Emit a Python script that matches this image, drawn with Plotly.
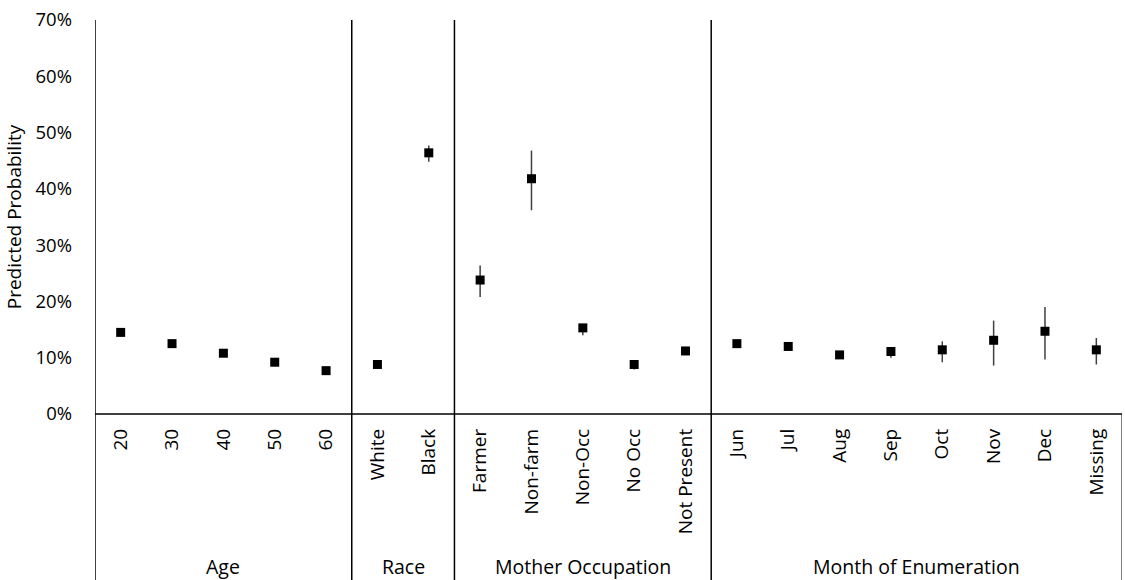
import plotly.graph_objects as go

# Categories grouped by covariate
groups = ["Age", "Race", "Mother Occupation", "Month of Enumeration"]
group_labels = [
    ["20", "30", "40", "50", "60"],
    ["White", "Black"],
    ["Farmer", "Non-farm", "Non-Occ", "No Occ", "Not Present"],
    ["Jun", "Jul", "Aug", "Sep", "Oct", "Nov", "Dec", "Missing"],
]

# Predicted probabilities with lower/upper confidence bounds
prob = [0.145, 0.125, 0.108, 0.092, 0.077,
        0.088, 0.464,
        0.238, 0.418, 0.153, 0.088, 0.112,
        0.125, 0.120, 0.105, 0.111, 0.114, 0.131, 0.147, 0.114]
lower = [0.141, 0.121, 0.104, 0.088, 0.073,
         0.085, 0.448,
         0.208, 0.362, 0.140, 0.079, 0.107,
         0.120, 0.115, 0.100, 0.100, 0.092, 0.086, 0.097, 0.088]
upper = [0.149, 0.129, 0.112, 0.096, 0.081,
         0.091, 0.477,
         0.264, 0.468, 0.158, 0.092, 0.117,
         0.130, 0.125, 0.110, 0.117, 0.129, 0.166, 0.190, 0.135]

tick_text = [lab for g in group_labels for lab in g]
xs = list(range(len(tick_text)))

FONT = "Open Sans"
W, H = 1125, 580
ML, MR, MT, MB = 95, 3, 20, 166
plot_h = H - MT - MB
bottom = -MB / plot_h

fig = go.Figure()
fig.add_trace(go.Scatter(
    x=xs, y=prob, mode="markers",
    marker=dict(symbol="square", size=9, color="black"),
    error_y=dict(type="data", symmetric=False,
                 array=[u - p for u, p in zip(upper, prob)],
                 arrayminus=[p - l for p, l in zip(prob, lower)],
                 color="#404040", thickness=1.5, width=0),
    showlegend=False,
))

shapes = []
line = dict(color="black", width=1.5)
# boundaries between groups run from the top of the plot to the bottom of the page
start = 0
bounds = []
for g in group_labels:
    bounds.append((start, start + len(g) - 1))
    start += len(g)
shapes.append(dict(type="line", xref="x", yref="paper", x0=-0.5, x1=-0.5,
                   y0=bottom, y1=1, line=line))
for (a, b) in bounds[:-1]:
    shapes.append(dict(type="line", xref="x", yref="paper", x0=b + 0.5, x1=b + 0.5,
                       y0=bottom, y1=1, line=line))
shapes.append(dict(type="line", xref="x", yref="paper", x0=len(xs) - 0.5, x1=len(xs) - 0.5,
                   y0=bottom, y1=0, line=dict(color="black", width=1)))
shapes.append(dict(type="line", xref="x", yref="paper", x0=-0.5, x1=len(xs) - 0.5,
                   y0=0, y1=0, line=line))

annotations = []
for name, (a, b) in zip(groups, bounds):
    annotations.append(dict(x=(a + b) / 2, xref="x", y=(plot_h - (566 - MT)) / plot_h,
                            yref="paper", text=name, showarrow=False,
                            font=dict(family=FONT, size=19.5, color="black"),
                            xanchor="center", yanchor="middle"))

fig.update_layout(
    width=W, height=H,
    margin=dict(l=ML, r=MR, t=MT, b=MB, pad=0),
    paper_bgcolor="white", plot_bgcolor="white",
    font=dict(family=FONT, size=16, color="black"),
    shapes=shapes, annotations=annotations,
    xaxis=dict(range=[-0.5, len(xs) - 0.5], tickmode="array", tickvals=xs,
               ticktext=tick_text, tickangle=-90, showgrid=False, zeroline=False,
               showline=False, ticks="", ticklabelstandoff=10,
               tickfont=dict(family=FONT, size=19, color="black")),
    yaxis=dict(range=[0, 0.7], dtick=0.1, tickformat=".0%", showgrid=False,
               zeroline=False, showline=False, ticks="", ticklabelstandoff=22,
               tickfont=dict(family=FONT, size=18.5, color="black"),
               title=dict(text="Predicted Probability", standoff=8,
                          font=dict(family=FONT, size=19, color="black"))),
)

fig.write_html("out.html")
